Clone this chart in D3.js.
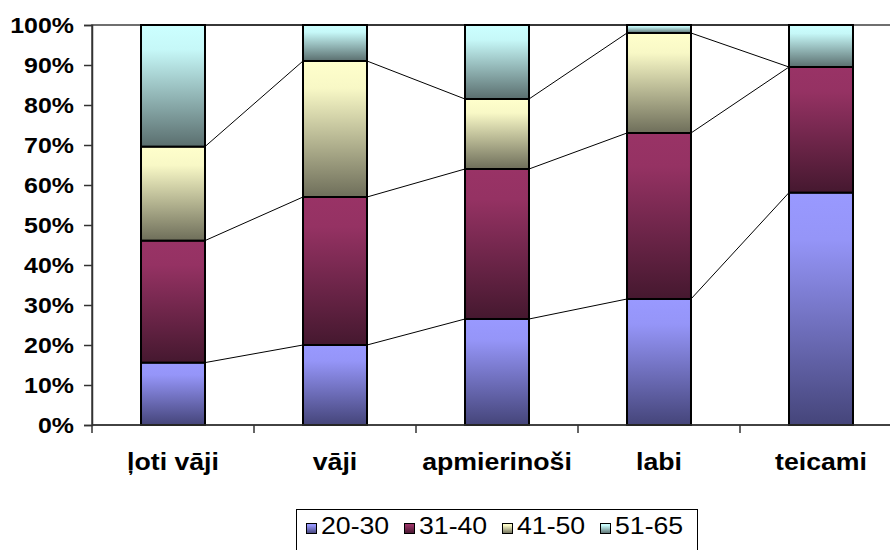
<!DOCTYPE html>
<html>
<head>
<meta charset="utf-8">
<script src="https://cdn.jsdelivr.net/npm/d3@7/dist/d3.min.js"></script>
<style>
  html, body { margin: 0; padding: 0; background: #fff; }
  svg { display: block; }
  text { font-family: "Liberation Sans", Arial, sans-serif; fill: #000; }
</style>
</head>
<body>
<svg id="chart" width="890" height="550"></svg>
<script>
// Grade categories and the age-group share in each (percent)
const categories = ["ļoti vāji", "vāji", "apmierinoši", "labi", "teicami"];
const seriesNames = ["20-30", "31-40", "41-50", "51-65"];
const s20_30 = [15.6, 20.0, 26.5, 31.5, 58.1];
const s31_40 = [30.5, 37.0, 37.5, 41.5, 31.4];
const s41_50 = [23.5, 34.0, 17.5, 25.0, 0.0];
const s51_65 = [30.4, 9.0, 18.5, 2.0, 10.5];
const yTickValues = [0, 0.1, 0.2, 0.3, 0.4, 0.5, 0.6, 0.7, 0.8, 0.9, 1.0];

// gradient colours per series: [light top, dark bottom]
const seriesColors = [
  ["#9999ff", "#45457a"],
  ["#993366", "#45182f"],
  ["#ffffcc", "#6e6e5a"],
  ["#ccffff", "#5a6e6e"]
];

const rows = categories.map((c, i) => ({
  cat: c,
  "20-30": s20_30[i], "31-40": s31_40[i], "41-50": s41_50[i], "51-65": s51_65[i]
}));

const svg = d3.select("#chart");
const stretch = 1.16; // horizontal glyph stretch of the labels

const plot = { left: 92, right: 902, top: 25, bottom: 425 };

const x = d3.scaleBand()
  .domain(categories)
  .range([plot.left, plot.right])
  .paddingInner(0.605)
  .paddingOuter(0.3025);

const y = d3.scaleLinear().domain([0, 1]).range([plot.bottom, plot.top]);

const stacked = d3.stack()
  .keys(seriesNames)
  .offset(d3.stackOffsetExpand)(rows);

// gradients
const defs = svg.append("defs");
seriesColors.forEach((c, i) => {
  const g = defs.append("linearGradient")
    .attr("id", "grad" + i)
    .attr("x1", 0).attr("y1", 0).attr("x2", 0).attr("y2", 1);
  g.append("stop").attr("offset", "0%").attr("stop-color", c[0]);
  g.append("stop").attr("offset", "20%").attr("stop-color", d3.interpolateRgb(c[0], c[1])(0.05));
  g.append("stop").attr("offset", "100%").attr("stop-color", c[1]);
});

// plot frame
svg.append("rect")
  .attr("x", plot.left).attr("y", plot.top)
  .attr("width", plot.right - plot.left).attr("height", plot.bottom - plot.top)
  .attr("fill", "none").attr("stroke", "#404040").attr("stroke-width", 1.5);

// series connector lines between neighbouring bars
const bw = x.bandwidth();
const connectors = svg.append("g").attr("stroke", "#000").attr("stroke-width", 1).attr("fill", "none");
stacked.forEach(layer => {
  for (let i = 0; i < layer.length - 1; i++) {
    connectors.append("line")
      .attr("x1", x(categories[i]) + bw).attr("y1", y(layer[i][1]))
      .attr("x2", x(categories[i + 1])).attr("y2", y(layer[i + 1][1]));
  }
});

// stacked bars
const layers = svg.append("g").selectAll("g")
  .data(stacked)
  .join("g")
  .attr("fill", (d, i) => `url(#grad${i})`);

layers.selectAll("rect")
  .data(d => d.filter(p => p[1] - p[0] > 0))
  .join("rect")
  .attr("x", d => x(d.data.cat))
  .attr("y", d => y(d[1]))
  .attr("width", bw)
  .attr("height", d => y(d[0]) - y(d[1]))
  .attr("stroke", "#000")
  .attr("stroke-width", 2);

// y axis
const yAxis = svg.append("g")
  .attr("transform", `translate(${plot.left},0)`)
  .call(d3.axisLeft(y).tickValues(yTickValues).tickFormat(d3.format(".0%")).tickSize(8));
yAxis.select(".domain").attr("stroke", "#333").attr("stroke-width", 1.5);
yAxis.selectAll(".tick line").attr("stroke", "#333").attr("stroke-width", 1.5);
yAxis.selectAll(".tick text")
  .attr("x", 0).attr("dy", "0.36em")
  .attr("transform", `translate(-18,0) scale(${stretch},1)`)
  .style("font-size", "21.5px").style("font-weight", "bold")
  .attr("fill", "#000");

// x axis: baseline, boundary ticks and centred labels
const xAxis = svg.append("g").attr("transform", `translate(0,${plot.bottom})`);
xAxis.append("line")
  .attr("x1", plot.left).attr("x2", plot.right)
  .attr("stroke", "#333").attr("stroke-width", 1.5);
const step = x.step();
const boundaries = categories.map(c => x(c) + bw / 2 - step / 2).concat([x(categories[categories.length - 1]) + bw / 2 + step / 2]);
xAxis.selectAll("line.tk")
  .data(boundaries)
  .join("line")
  .attr("class", "tk")
  .attr("x1", d => d).attr("x2", d => d)
  .attr("y1", 0).attr("y2", 8)
  .attr("stroke", "#333").attr("stroke-width", 1.5);
xAxis.selectAll("text")
  .data(categories)
  .join("text")
  .attr("text-anchor", "middle")
  .attr("transform", d => `translate(${x(d) + bw / 2},45) scale(${stretch},1)`)
  .style("font-size", "23px").style("font-weight", "bold")
  .text(d => d);

// legend
const legend = svg.append("g");
legend.append("rect")
  .attr("x", 296.5).attr("y", 509.5)
  .attr("width", 401).attr("height", 60)
  .attr("fill", "#fff").attr("stroke", "#000").attr("stroke-width", 1);
const items = legend.selectAll("g.item")
  .data(seriesNames)
  .join("g")
  .attr("class", "item")
  .attr("transform", (d, i) => `translate(${306 + i * 98},0)`);
items.append("rect")
  .attr("x", 0.5).attr("y", 523.5).attr("width", 10).attr("height", 10)
  .attr("fill", (d, i) => `url(#grad${i})`)
  .attr("stroke", "#000").attr("stroke-width", 1);
items.append("text")
  .attr("transform", `translate(15,534) scale(${stretch},1)`)
  .style("font-size", "23px")
  .text(d => d);
</script>
</body>
</html>
